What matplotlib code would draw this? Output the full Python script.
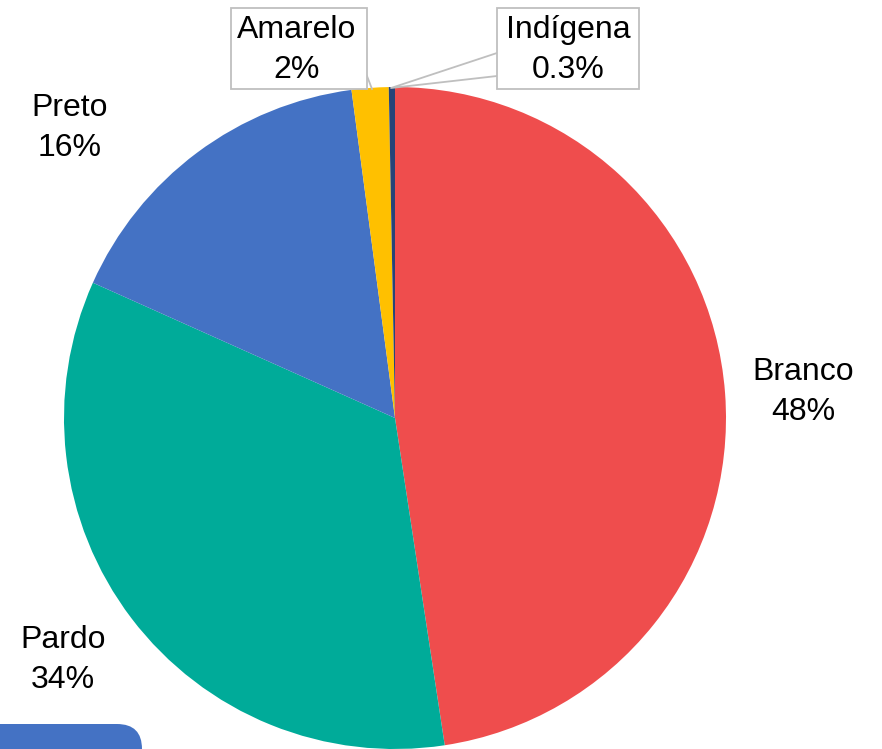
import matplotlib
matplotlib.use("Agg")
import matplotlib.pyplot as plt
from matplotlib.patches import FancyBboxPatch, Rectangle

categories = ["Branco", "Pardo", "Preto", "Amarelo", "Indígena"]
values = [47.6, 34.1, 16.2, 1.8, 0.3]
colors = ["#EF4D4D", "#00AB99", "#4472C4", "#FFC000", "#264478"]

def fmt(v):
    return f"{v:.1f}%" if v < 1 else f"{v:.0f}%"

plt.rcParams['font.family'] = ['Liberation Sans', 'DejaVu Sans']

W, H = 882, 749
fig = plt.figure(figsize=(W / 100, H / 100), dpi=100)
ax = fig.add_axes([0, 0, 1, 1])

cx, cy, r = 395, H - 418, 331
ax.pie(values, colors=colors, startangle=90, counterclock=False,
       center=(cx, cy), radius=r, wedgeprops=dict(linewidth=0),
       frame=True)
ax.set_xlim(0, W)
ax.set_ylim(0, H)
ax.set_aspect('equal')
ax.axis('off')

fs = 23
ls = 1.4
# outside labels
pos = {"Branco": (803, H - 392), "Pardo": (63, H - 660), "Preto": (70, H - 128)}
for c, v in zip(categories, values):
    if c in pos:
        x, y = pos[c]
        ax.text(x, y, f"{c}\n{fmt(v)}", ha='center', va='center',
                fontsize=fs, color='black', linespacing=ls)

gray = "#BFBFBF"
# Amarelo callout
ax.plot([367, 372], [H - 76, H - 89], color=gray, lw=1.3, zorder=4)
ax.add_patch(Rectangle((231, H - 89), 136, 81, facecolor='white',
                       edgecolor=gray, lw=1.3, zorder=5))
ax.text(297, H - 50, f"Amarelo\n{fmt(values[3])}", ha='center', va='center',
        fontsize=fs, linespacing=ls, zorder=6)
# Indígena callout
ax.plot([497, 391, 497], [H - 53, H - 88, H - 76], color=gray, lw=1.3, zorder=4)
ax.add_patch(Rectangle((497, H - 89), 142, 81, facecolor='white',
                       edgecolor=gray, lw=1.3, zorder=5))
ax.text(568, H - 50, f"Indígena\n{fmt(values[4])}", ha='center', va='center',
        fontsize=fs, linespacing=ls, zorder=6)

# decorative blue rounded tab at bottom-left
ax.add_patch(FancyBboxPatch((-40, -60), 157, 60, boxstyle="round,pad=25",
                            facecolor="#4472C4", edgecolor='none', zorder=7))

fig.savefig("out.png", dpi=100)
